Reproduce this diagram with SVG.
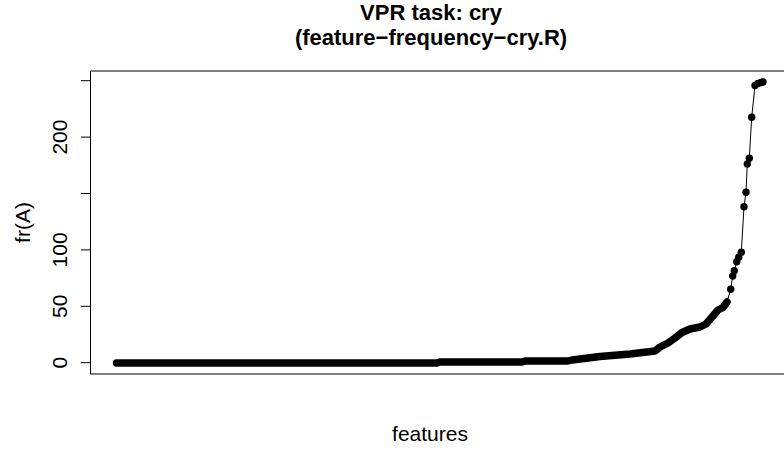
<svg xmlns="http://www.w3.org/2000/svg" width="784" height="449" viewBox="0 0 784 449">
<style>
text{font-family:"Liberation Sans",Arial,sans-serif;fill:#000}
.title{font-weight:bold;font-size:22px;text-anchor:middle}
.lab{font-size:21px;text-anchor:middle}
.axis line{stroke:#000;stroke-width:1}
.pt{fill:#000}
</style>
<rect width="784" height="449" fill="#fff"/>
<g id="title">
<text class="title" x="431" y="20">VPR task: cry</text>
<text class="title" x="431" y="45">(feature−frequency−cry.R)</text>
</g>
<g id="frame">
<path d="M790,71 H90.5 V374 H790" fill="none" stroke="#000" stroke-width="1"/>
</g>
<g id="yaxis" class="axis">
<line x1="90.5" y1="80.7" x2="90.5" y2="362.7"/>
<line x1="81" y1="362.7" x2="90.5" y2="362.7"/>
<line x1="81" y1="306.3" x2="90.5" y2="306.3"/>
<line x1="81" y1="249.9" x2="90.5" y2="249.9"/>
<line x1="81" y1="193.5" x2="90.5" y2="193.5"/>
<line x1="81" y1="137.1" x2="90.5" y2="137.1"/>
<line x1="81" y1="80.7" x2="90.5" y2="80.7"/>
<text class="lab" transform="translate(67,362.7) rotate(-90)">0</text>
<text class="lab" transform="translate(67,306.3) rotate(-90)">50</text>
<text class="lab" transform="translate(67,249.9) rotate(-90)">100</text>
<text class="lab" transform="translate(67,137.1) rotate(-90)">200</text>
<text class="lab" transform="translate(30,222.5) rotate(-90)">fr(A)</text>
</g>
<g id="xaxis">
<text class="lab" x="430" y="441">features</text>
</g>
<g id="data">
<path d="M116.5,363 H437 L440,362 H522 L525,361 H568 L572,360 L600,356.5 L630,354 L655,351 L660,347 L668,343 L675,338 L682,332.5 L690,329 L700,327 L706,324 L712,317 L718,310 L723,307.5 L727,302" fill="none" stroke="#000" stroke-width="7.4" stroke-linecap="round" stroke-linejoin="round"/>
<polyline points="727,302 730.7,289.3 732.7,276 734.3,270.7 736.7,261.7 738.7,257.3 741.3,252.3 744,206.7 746,192.3 747.3,164 749.3,158.3 751.7,117.3 755,85.5 758,83.5 761,82.5 763,82" fill="none" stroke="#000" stroke-width="1"/>
<circle class="pt" cx="730.7" cy="289.3" r="3.7"/>
<circle class="pt" cx="732.7" cy="276" r="3.7"/>
<circle class="pt" cx="734.3" cy="270.7" r="3.7"/>
<circle class="pt" cx="736.7" cy="261.7" r="3.7"/>
<circle class="pt" cx="738.7" cy="257.3" r="3.7"/>
<circle class="pt" cx="741.3" cy="252.3" r="3.7"/>
<circle class="pt" cx="744" cy="206.7" r="3.7"/>
<circle class="pt" cx="746" cy="192.3" r="3.7"/>
<circle class="pt" cx="747.3" cy="164" r="3.7"/>
<circle class="pt" cx="749.3" cy="158.3" r="3.7"/>
<circle class="pt" cx="751.7" cy="117.3" r="3.7"/>
<circle class="pt" cx="755" cy="85.5" r="3.7"/>
<circle class="pt" cx="758" cy="83.5" r="3.7"/>
<circle class="pt" cx="761" cy="82.5" r="3.7"/>
<circle class="pt" cx="763" cy="82" r="3.7"/>
</g>
</svg>
